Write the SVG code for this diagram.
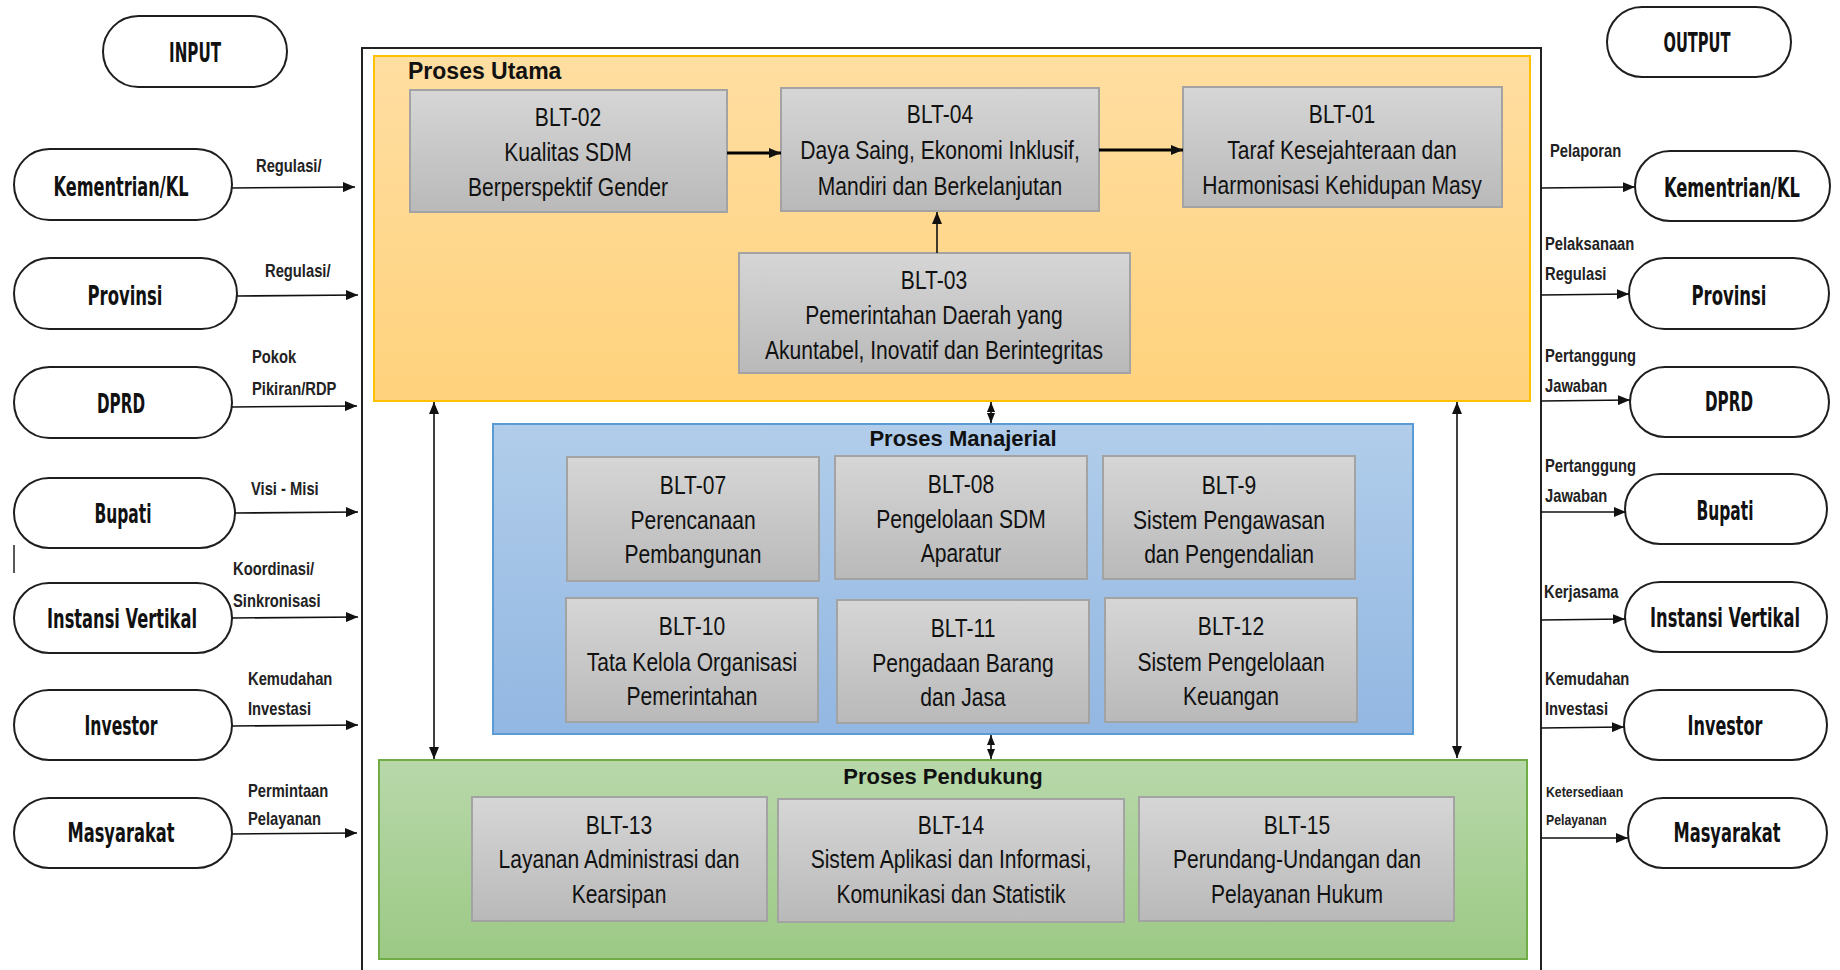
<svg xmlns="http://www.w3.org/2000/svg" width="1840" height="970" viewBox="0 0 1840 970">
<style>
.pill{fill:#fff;stroke:#1e1e1e;stroke-width:2}
.pt{font-family:"Liberation Sans Narrow","DejaVu Sans Condensed","Liberation Sans",sans-serif;font-weight:bold;font-size:27px;fill:#111;text-anchor:middle}
.lbl{font-family:"Liberation Sans",Arial,sans-serif;font-weight:bold;font-size:18px;fill:#222}
.box{fill:url(#gGray);stroke:#a3a3a3;stroke-width:2}
.bt{font-family:"Liberation Sans",Arial,sans-serif;font-size:26px;fill:#111;text-anchor:middle}
.title{font-family:"Liberation Sans",Arial,sans-serif;font-weight:bold;font-size:22px;fill:#111}
.ln{stroke:#111;stroke-width:1.6;fill:none}
.thick{stroke:#000;stroke-width:3.2;fill:none}
</style>
<defs>
<linearGradient id="gGray" x1="0" y1="0" x2="0" y2="1"><stop offset="0" stop-color="#d6d6d6"/><stop offset="1" stop-color="#b9b9b9"/></linearGradient>
<linearGradient id="gOrange" x1="0" y1="0" x2="0" y2="1"><stop offset="0" stop-color="#ffdea2"/><stop offset="1" stop-color="#ffd27c"/></linearGradient>
<linearGradient id="gBlue" x1="0" y1="0" x2="0" y2="1"><stop offset="0" stop-color="#b1cdea"/><stop offset="1" stop-color="#92b7e2"/></linearGradient>
<linearGradient id="gGreen" x1="0" y1="0" x2="0" y2="1"><stop offset="0" stop-color="#b8d8aa"/><stop offset="1" stop-color="#9cc985"/></linearGradient>
<marker id="ah" viewBox="0 0 12 10" refX="12" refY="5" markerWidth="12" markerHeight="10" markerUnits="userSpaceOnUse" orient="auto-start-reverse"><path d="M0,0 L12,5 L0,10 z" fill="#111"/></marker>
<marker id="ahs" viewBox="0 0 10 8" refX="10" refY="4" markerWidth="10" markerHeight="8" markerUnits="userSpaceOnUse" orient="auto-start-reverse"><path d="M0,0 L10,4 L0,8 z" fill="#111"/></marker>
</defs>
<rect width="1840" height="970" fill="#fff"/>

<!-- outer frame -->
<g id="frame">
<path d="M362,972 L362,48 L1541,48 L1541,972" fill="none" stroke="#222" stroke-width="2"/>
</g>

<!-- process groups -->
<g id="proses-utama">
<rect x="374" y="56" width="1156" height="345" fill="url(#gOrange)" stroke="#ffc000" stroke-width="2"/>
<text class="title" x="408" y="79" style="font-size:23px">Proses Utama</text>
</g>
<g id="proses-manajerial">
<rect x="493" y="424" width="920" height="310" fill="url(#gBlue)" stroke="#5b9bd5" stroke-width="2"/>
<text class="title" x="963" y="446" text-anchor="middle">Proses Manajerial</text>
</g>
<g id="proses-pendukung">
<rect x="379" y="760" width="1148" height="199" fill="url(#gGreen)" stroke="#70ad47" stroke-width="2"/>
<text class="title" x="943" y="784" text-anchor="middle">Proses Pendukung</text>
</g>

<!-- BLT nodes -->
<g id="blt-02"><rect class="box" x="410" y="90" width="317" height="122"/>
<text class="bt" transform="translate(568,126) scale(0.81,1)">BLT-02</text><text class="bt" transform="translate(568,161) scale(0.81,1)">Kualitas SDM</text><text class="bt" transform="translate(568,196) scale(0.81,1)">Berperspektif Gender</text></g>
<g id="blt-04"><rect class="box" x="781" y="88" width="318" height="123"/>
<text class="bt" transform="translate(940,123) scale(0.81,1)">BLT-04</text><text class="bt" transform="translate(940,159) scale(0.81,1)">Daya Saing, Ekonomi Inklusif,</text><text class="bt" transform="translate(940,195) scale(0.81,1)">Mandiri dan Berkelanjutan</text></g>
<g id="blt-01"><rect class="box" x="1183" y="87" width="319" height="120"/>
<text class="bt" transform="translate(1342,123) scale(0.81,1)">BLT-01</text><text class="bt" transform="translate(1342,159) scale(0.81,1)">Taraf Kesejahteraan dan</text><text class="bt" transform="translate(1342,194) scale(0.81,1)">Harmonisasi Kehidupan Masy</text></g>
<g id="blt-03"><rect class="box" x="739" y="253" width="391" height="120"/>
<text class="bt" transform="translate(934,289) scale(0.81,1)">BLT-03</text><text class="bt" transform="translate(934,324) scale(0.81,1)">Pemerintahan Daerah yang</text><text class="bt" transform="translate(934,359) scale(0.81,1)">Akuntabel, Inovatif dan Berintegritas</text></g>

<g id="blt-07"><rect class="box" x="567" y="457" width="252" height="124"/>
<text class="bt" transform="translate(693,494) scale(0.81,1)">BLT-07</text><text class="bt" transform="translate(693,529) scale(0.81,1)">Perencanaan</text><text class="bt" transform="translate(693,563) scale(0.81,1)">Pembangunan</text></g>
<g id="blt-08"><rect class="box" x="835" y="456" width="252" height="123"/>
<text class="bt" transform="translate(961,493) scale(0.81,1)">BLT-08</text><text class="bt" transform="translate(961,528) scale(0.81,1)">Pengelolaan SDM</text><text class="bt" transform="translate(961,562) scale(0.81,1)">Aparatur</text></g>
<g id="blt-9"><rect class="box" x="1103" y="456" width="252" height="123"/>
<text class="bt" transform="translate(1229,494) scale(0.81,1)">BLT-9</text><text class="bt" transform="translate(1229,529) scale(0.81,1)">Sistem Pengawasan</text><text class="bt" transform="translate(1229,563) scale(0.81,1)">dan Pengendalian</text></g>
<g id="blt-10"><rect class="box" x="566" y="598" width="252" height="124"/>
<text class="bt" transform="translate(692,635) scale(0.81,1)">BLT-10</text><text class="bt" transform="translate(692,671) scale(0.81,1)">Tata Kelola Organisasi</text><text class="bt" transform="translate(692,705) scale(0.81,1)">Pemerintahan</text></g>
<g id="blt-11"><rect class="box" x="837" y="600" width="252" height="123"/>
<text class="bt" transform="translate(963,637) scale(0.81,1)">BLT-11</text><text class="bt" transform="translate(963,672) scale(0.81,1)">Pengadaan Barang</text><text class="bt" transform="translate(963,706) scale(0.81,1)">dan Jasa</text></g>
<g id="blt-12"><rect class="box" x="1105" y="598" width="252" height="124"/>
<text class="bt" transform="translate(1231,635) scale(0.81,1)">BLT-12</text><text class="bt" transform="translate(1231,671) scale(0.81,1)">Sistem Pengelolaan</text><text class="bt" transform="translate(1231,705) scale(0.81,1)">Keuangan</text></g>

<g id="blt-13"><rect class="box" x="472" y="797" width="295" height="124"/>
<text class="bt" transform="translate(619,834) scale(0.81,1)">BLT-13</text><text class="bt" transform="translate(619,868) scale(0.81,1)">Layanan Administrasi dan</text><text class="bt" transform="translate(619,903) scale(0.81,1)">Kearsipan</text></g>
<g id="blt-14"><rect class="box" x="778" y="799" width="346" height="123"/>
<text class="bt" transform="translate(951,834) scale(0.81,1)">BLT-14</text><text class="bt" transform="translate(951,868) scale(0.81,1)">Sistem Aplikasi dan Informasi,</text><text class="bt" transform="translate(951,903) scale(0.81,1)">Komunikasi dan Statistik</text></g>
<g id="blt-15"><rect class="box" x="1139" y="797" width="315" height="124"/>
<text class="bt" transform="translate(1297,834) scale(0.81,1)">BLT-15</text><text class="bt" transform="translate(1297,868) scale(0.81,1)">Perundang-Undangan dan</text><text class="bt" transform="translate(1297,903) scale(0.81,1)">Pelayanan Hukum</text></g>

<!-- input pills -->
<g id="input"><rect class="pill" x="103" y="16" width="184" height="71" rx="35.5"/><text class="pt" x="195" y="62" textLength="52" lengthAdjust="spacingAndGlyphs">INPUT</text></g>
<g id="in-kementrian"><rect class="pill" x="14" y="149" width="218" height="71" rx="35.5"/><text class="pt" x="121" y="196" textLength="135" lengthAdjust="spacingAndGlyphs">Kementrian/KL</text></g>
<g id="in-provinsi"><rect class="pill" x="14" y="258" width="223" height="71" rx="35.5"/><text class="pt" x="125" y="305" textLength="75" lengthAdjust="spacingAndGlyphs">Provinsi</text></g>
<g id="in-dprd"><rect class="pill" x="14" y="367" width="218" height="71" rx="35.5"/><text class="pt" x="121" y="413" textLength="48" lengthAdjust="spacingAndGlyphs">DPRD</text></g>
<g id="in-bupati"><rect class="pill" x="14" y="478" width="221" height="70" rx="35"/><text class="pt" x="123" y="523" textLength="57" lengthAdjust="spacingAndGlyphs">Bupati</text></g>
<g id="in-instansi"><rect class="pill" x="14" y="583" width="218" height="70" rx="35"/><text class="pt" x="122" y="628" textLength="150" lengthAdjust="spacingAndGlyphs">Instansi Vertikal</text></g>
<g id="in-investor"><rect class="pill" x="14" y="690" width="218" height="70" rx="35"/><text class="pt" x="121" y="735" textLength="73" lengthAdjust="spacingAndGlyphs">Investor</text></g>
<g id="in-masyarakat"><rect class="pill" x="14" y="798" width="218" height="70" rx="35"/><text class="pt" x="121" y="842" textLength="107" lengthAdjust="spacingAndGlyphs">Masyarakat</text></g>

<!-- output pills -->
<g id="output"><rect class="pill" x="1607" y="7" width="184" height="70" rx="35"/><text class="pt" x="1697" y="52" textLength="67" lengthAdjust="spacingAndGlyphs">OUTPUT</text></g>
<g id="out-kementrian"><rect class="pill" x="1635" y="151" width="195" height="70" rx="35"/><text class="pt" x="1732" y="197" textLength="136" lengthAdjust="spacingAndGlyphs">Kementrian/KL</text></g>
<g id="out-provinsi"><rect class="pill" x="1629" y="258" width="200" height="71" rx="35.5"/><text class="pt" x="1729" y="305" textLength="75" lengthAdjust="spacingAndGlyphs">Provinsi</text></g>
<g id="out-dprd"><rect class="pill" x="1630" y="367" width="199" height="70" rx="35"/><text class="pt" x="1729" y="411" textLength="48" lengthAdjust="spacingAndGlyphs">DPRD</text></g>
<g id="out-bupati"><rect class="pill" x="1625" y="474" width="202" height="70" rx="35"/><text class="pt" x="1725" y="520" textLength="57" lengthAdjust="spacingAndGlyphs">Bupati</text></g>
<g id="out-instansi"><rect class="pill" x="1625" y="582" width="202" height="70" rx="35"/><text class="pt" x="1725" y="627" textLength="150" lengthAdjust="spacingAndGlyphs">Instansi Vertikal</text></g>
<g id="out-investor"><rect class="pill" x="1624" y="690" width="203" height="70" rx="35"/><text class="pt" x="1725" y="735" textLength="75" lengthAdjust="spacingAndGlyphs">Investor</text></g>
<g id="out-masyarakat"><rect class="pill" x="1628" y="798" width="199" height="70" rx="35"/><text class="pt" x="1727" y="842" textLength="107" lengthAdjust="spacingAndGlyphs">Masyarakat</text></g>

<!-- stray mark -->
<line x1="14" y1="545" x2="14" y2="573" stroke="#222" stroke-width="1.5"/>

<!-- connectors -->
<g id="connectors">
<line class="ln" x1="232" y1="188" x2="355" y2="187" marker-end="url(#ah)"/>
<line class="ln" x1="237" y1="296" x2="358" y2="295" marker-end="url(#ah)"/>
<line class="ln" x1="232" y1="407" x2="357" y2="406" marker-end="url(#ah)"/>
<line class="ln" x1="235" y1="513" x2="358" y2="512" marker-end="url(#ah)"/>
<line class="ln" x1="232" y1="618" x2="358" y2="617" marker-end="url(#ah)"/>
<line class="ln" x1="232" y1="726" x2="358" y2="725" marker-end="url(#ah)"/>
<line class="ln" x1="232" y1="834" x2="357" y2="833" marker-end="url(#ah)"/>

<line class="ln" x1="1541" y1="188" x2="1635" y2="187" marker-end="url(#ah)"/>
<line class="ln" x1="1541" y1="295" x2="1629" y2="294" marker-end="url(#ah)"/>
<line class="ln" x1="1541" y1="401" x2="1630" y2="400" marker-end="url(#ah)"/>
<line class="ln" x1="1541" y1="512" x2="1626" y2="512" marker-end="url(#ah)"/>
<line class="ln" x1="1541" y1="620" x2="1625" y2="619" marker-end="url(#ah)"/>
<line class="ln" x1="1541" y1="728" x2="1624" y2="727" marker-end="url(#ah)"/>
<line class="ln" x1="1541" y1="838" x2="1628" y2="838" marker-end="url(#ah)"/>

<line class="thick" x1="727" y1="153" x2="781" y2="153" marker-end="url(#ah)"/>
<line class="thick" x1="1099" y1="150" x2="1183" y2="150" marker-end="url(#ah)"/>
<line class="ln" x1="937" y1="253" x2="937" y2="212" marker-end="url(#ah)"/>

<line class="ln" x1="434" y1="402" x2="434" y2="759" marker-start="url(#ah)" marker-end="url(#ah)"/>
<line class="ln" x1="1457" y1="402" x2="1457" y2="758" marker-start="url(#ah)" marker-end="url(#ah)"/>
<line class="ln" x1="991" y1="402" x2="991" y2="423" marker-start="url(#ahs)" marker-end="url(#ahs)"/>
<line class="ln" x1="991" y1="735" x2="991" y2="759" marker-start="url(#ahs)" marker-end="url(#ahs)"/>

<text class="lbl" transform="translate(256,172) scale(0.82,1)">Regulasi/</text>
<text class="lbl" transform="translate(265,277) scale(0.82,1)">Regulasi/</text>
<text class="lbl" transform="translate(252,363) scale(0.82,1)">Pokok</text>
<text class="lbl" transform="translate(252,395) scale(0.82,1)">Pikiran/RDP</text>
<text class="lbl" transform="translate(251,495) scale(0.82,1)">Visi - Misi</text>
<text class="lbl" transform="translate(233,575) scale(0.82,1)">Koordinasi/</text>
<text class="lbl" transform="translate(233,607) scale(0.82,1)">Sinkronisasi</text>
<text class="lbl" transform="translate(248,685) scale(0.82,1)">Kemudahan</text>
<text class="lbl" transform="translate(248,715) scale(0.82,1)">Investasi</text>
<text class="lbl" transform="translate(248,797) scale(0.82,1)">Permintaan</text>
<text class="lbl" transform="translate(248,825) scale(0.82,1)">Pelayanan</text>

<text class="lbl" transform="translate(1550,157) scale(0.82,1)">Pelaporan</text>
<text class="lbl" transform="translate(1545,250) scale(0.82,1)">Pelaksanaan</text>
<text class="lbl" transform="translate(1545,280) scale(0.82,1)">Regulasi</text>
<text class="lbl" transform="translate(1545,362) scale(0.82,1)">Pertanggung</text>
<text class="lbl" transform="translate(1545,392) scale(0.82,1)">Jawaban</text>
<text class="lbl" transform="translate(1545,472) scale(0.82,1)">Pertanggung</text>
<text class="lbl" transform="translate(1545,502) scale(0.82,1)">Jawaban</text>
<text class="lbl" transform="translate(1544,598) scale(0.82,1)">Kerjasama</text>
<text class="lbl" transform="translate(1545,685) scale(0.82,1)">Kemudahan</text>
<text class="lbl" transform="translate(1545,715) scale(0.82,1)">Investasi</text>
<text class="lbl" transform="translate(1546,797) scale(0.82,1)" style="font-size:15px">Ketersediaan</text>
<text class="lbl" transform="translate(1546,825) scale(0.82,1)" style="font-size:15px">Pelayanan</text>
</g>
</svg>
